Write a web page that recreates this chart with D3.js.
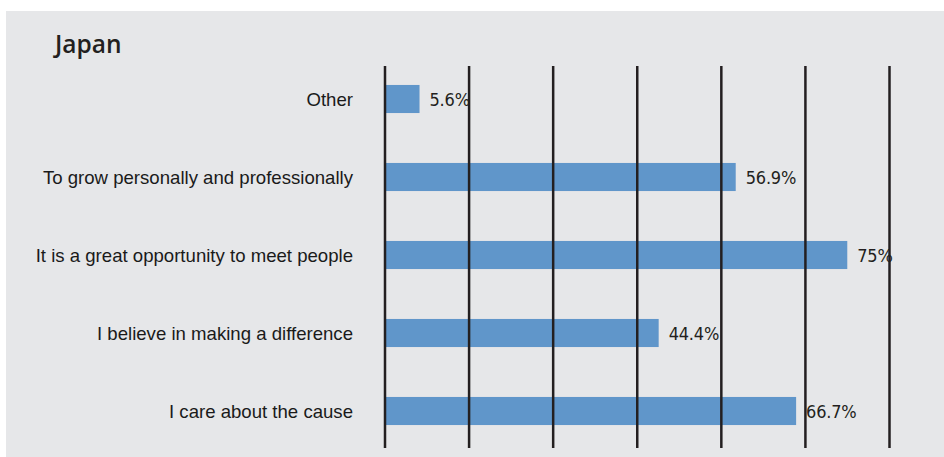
<!DOCTYPE html>
<html>
<head>
<meta charset="utf-8">
<script src="https://cdn.jsdelivr.net/npm/d3@7"></script>
<style>
  html, body { margin: 0; padding: 0; background: #ffffff; }
  svg { display: block; }
</style>
</head>
<body>
<svg id="chart" width="944" height="457"></svg>
<script>
// Reasons for volunteering — Japan
const title = "Japan";
const categories = [
  "Other",
  "To grow personally and professionally",
  "It is a great opportunity to meet people",
  "I believe in making a difference",
  "I care about the cause"
];
const values = [5.6, 56.9, 75, 44.4, 66.7];
const valueLabels = ["5.6%", "56.9%", "75%", "44.4%", "66.7%"];
const axisMax = 81.85;       // upper end of the value axis (percent)
const gridCount = 6;         // number of equal intervals between gridlines

const svg = d3.select("#chart");

// panel background
svg.append("rect")
  .attr("x", 6).attr("y", 11)
  .attr("width", 938).attr("height", 446)
  .attr("fill", "#e6e7e9");

svg.append("text")
  .attr("x", 55).attr("y", 53)
  .attr("font-family", "'Open Sans', sans-serif")
  .attr("font-weight", 600)
  .attr("font-size", 24.5)
  .attr("fill", "#231f20")
  .text(title);

const x = d3.scaleLinear().domain([0, axisMax]).range([385, 889.5]);
const y = d3.scaleBand().domain(categories).range([60, 450])
  .paddingInner(0.64).paddingOuter(0.64 / 2);

// bars
svg.append("g").selectAll("rect")
  .data(categories)
  .join("rect")
  .attr("x", x(0))
  .attr("y", d => y(d))
  .attr("width", (d, i) => x(values[i]) - x(0))
  .attr("height", y.bandwidth())
  .attr("fill", "#6096ca");

// vertical gridlines
const gridVals = d3.range(gridCount + 1).map(i => axisMax * i / gridCount);
svg.append("g").selectAll("line")
  .data(gridVals)
  .join("line")
  .attr("x1", d => x(d)).attr("x2", d => x(d))
  .attr("y1", 66).attr("y2", 448)
  .attr("stroke", "#231f20")
  .attr("stroke-width", 2.5);

// category labels
svg.append("g").selectAll("text")
  .data(categories)
  .join("text")
  .attr("x", 353)
  .attr("y", d => y(d) + y.bandwidth() / 2)
  .attr("dy", "0.35em")
  .attr("text-anchor", "end")
  .attr("font-family", "'Liberation Sans', Arial, sans-serif")
  .attr("font-size", 18.6)
  .attr("fill", "#1a1a1a")
  .text(d => d);

// value labels
svg.append("g").selectAll("text")
  .data(categories)
  .join("text")
  .attr("x", (d, i) => x(values[i]) + 10)
  .attr("y", d => y(d) + y.bandwidth() / 2)
  .attr("dy", "0.37em")
  .attr("font-family", "'DejaVu Sans Condensed', 'DejaVu Sans', sans-serif")
  .attr("font-stretch", "condensed")
  .attr("font-size", 18)
  .attr("letter-spacing", -0.2)
  .attr("fill", "#231f20")
  .text((d, i) => valueLabels[i]);
</script>
</body>
</html>
